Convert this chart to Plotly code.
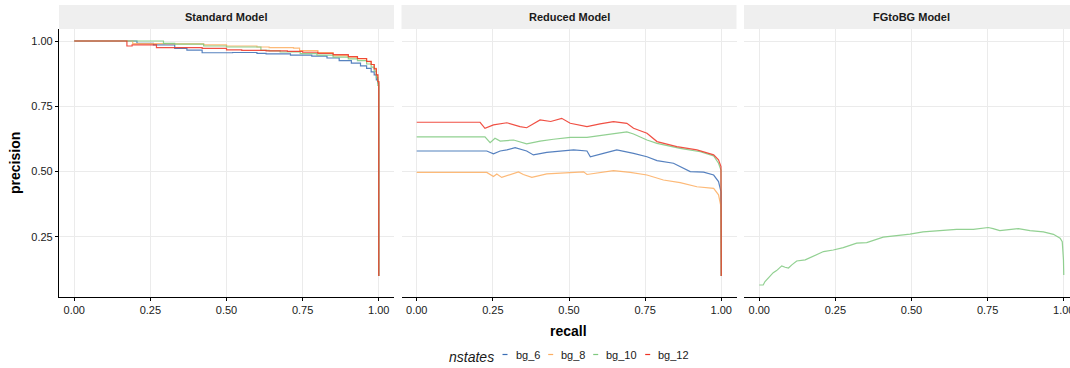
import plotly.graph_objects as go

# ---------------- data ----------------
panels = ["Standard Model", "Reduced Model", "FGtoBG Model"]
series = ["bg_6", "bg_8", "bg_10", "bg_12"]
series_colors = ["#3A6DB5", "#FDAE61", "#7FC97F", "#EE3224"]
legend_title = "nstates"
x_title = "recall"
y_title = "precision"
x_ticks = [0.0, 0.25, 0.5, 0.75, 1.0]
x_tick_labels = ["0.00", "0.25", "0.50", "0.75", "1.00"]
y_ticks = [0.25, 0.5, 0.75, 1.0]
y_tick_labels = ["0.25", "0.50", "0.75", "1.00"]

# Standard Model (step curves)
std_bg6_recall = [0.00, 0.206, 0.26, 0.33, 0.37, 0.42, 0.52, 0.60, 0.63, 0.71, 0.78, 0.83, 0.87, 0.91, 0.94, 0.96, 0.975, 0.985, 0.992, 0.997, 1.0, 1.0]
std_bg6_precision = [1.000, 0.991, 0.985, 0.972, 0.965, 0.955, 0.956, 0.953, 0.951, 0.946, 0.942, 0.935, 0.925, 0.915, 0.905, 0.895, 0.882, 0.870, 0.851, 0.840, 0.832, 0.10]

std_bg8_recall = [0.00, 0.192, 0.30, 0.425, 0.50, 0.60, 0.64, 0.72, 0.74, 0.80, 0.85, 0.90, 0.93, 0.96, 0.975, 0.985, 0.992, 0.997, 1.0, 1.0]
std_bg8_precision = [1.000, 0.990, 0.989, 0.985, 0.981, 0.977, 0.975, 0.973, 0.963, 0.956, 0.944, 0.938, 0.932, 0.921, 0.910, 0.895, 0.870, 0.845, 0.825, 0.10]

std_bg10_recall = [0.00, 0.293, 0.33, 0.425, 0.50, 0.613, 0.64, 0.676, 0.742, 0.797, 0.85, 0.90, 0.93, 0.96, 0.975, 0.985, 0.992, 0.997, 1.0, 1.0]
std_bg10_precision = [1.000, 0.991, 0.988, 0.981, 0.977, 0.964, 0.962, 0.958, 0.952, 0.946, 0.938, 0.932, 0.925, 0.912, 0.900, 0.885, 0.860, 0.830, 0.800, 0.10]

std_bg12_recall = [0.00, 0.173, 0.19, 0.27, 0.42, 0.50, 0.55, 0.63, 0.70, 0.75, 0.80, 0.85, 0.90, 0.93, 0.96, 0.975, 0.985, 0.992, 0.997, 1.0, 1.0]
std_bg12_precision = [1.000, 0.981, 0.985, 0.975, 0.972, 0.966, 0.964, 0.962, 0.960, 0.957, 0.953, 0.948, 0.940, 0.933, 0.922, 0.910, 0.893, 0.870, 0.845, 0.825, 0.10]

# Reduced Model
red_bg6_recall = [0.00, 0.230, 0.252, 0.274, 0.296, 0.323, 0.361, 0.383, 0.427, 0.471, 0.515, 0.559, 0.570, 0.613, 0.657, 0.712, 0.756, 0.789, 0.843, 0.898, 0.942, 0.975, 0.991, 0.999, 1.0]
red_bg6_precision = [0.579, 0.579, 0.568, 0.579, 0.583, 0.592, 0.579, 0.564, 0.574, 0.579, 0.583, 0.579, 0.557, 0.570, 0.583, 0.570, 0.557, 0.542, 0.532, 0.500, 0.498, 0.487, 0.462, 0.423, 0.10]

red_bg8_recall = [0.00, 0.230, 0.252, 0.263, 0.279, 0.318, 0.334, 0.350, 0.378, 0.427, 0.493, 0.548, 0.559, 0.646, 0.701, 0.756, 0.810, 0.865, 0.920, 0.975, 0.991, 0.999, 1.0]
red_bg8_precision = [0.497, 0.497, 0.481, 0.491, 0.478, 0.491, 0.499, 0.489, 0.478, 0.491, 0.495, 0.499, 0.489, 0.504, 0.497, 0.487, 0.468, 0.458, 0.442, 0.436, 0.411, 0.366, 0.10]

red_bg10_recall = [0.00, 0.224, 0.241, 0.257, 0.274, 0.318, 0.361, 0.405, 0.449, 0.504, 0.559, 0.624, 0.690, 0.712, 0.756, 0.789, 0.865, 0.931, 0.975, 0.991, 0.999, 1.0]
red_bg10_precision = [0.633, 0.633, 0.611, 0.628, 0.617, 0.621, 0.606, 0.617, 0.624, 0.631, 0.631, 0.640, 0.652, 0.644, 0.621, 0.608, 0.589, 0.576, 0.560, 0.532, 0.506, 0.10]

red_bg12_recall = [0.00, 0.208, 0.224, 0.252, 0.296, 0.339, 0.361, 0.405, 0.440, 0.476, 0.504, 0.559, 0.602, 0.646, 0.690, 0.712, 0.756, 0.789, 0.854, 0.920, 0.975, 0.991, 0.999, 1.0]
red_bg12_precision = [0.689, 0.689, 0.666, 0.679, 0.687, 0.672, 0.668, 0.698, 0.692, 0.704, 0.685, 0.672, 0.683, 0.691, 0.685, 0.666, 0.647, 0.615, 0.596, 0.583, 0.564, 0.545, 0.519, 0.10]

# FGtoBG Model (only bg_10)
fg_bg10_recall = [0.000, 0.013, 0.019, 0.035, 0.046, 0.057, 0.074, 0.085, 0.096, 0.107, 0.123, 0.151, 0.178, 0.211, 0.243, 0.276, 0.320, 0.353, 0.407, 0.451, 0.495, 0.538, 0.593, 0.648, 0.703, 0.752, 0.768, 0.790, 0.851, 0.889, 0.933, 0.966, 0.988, 0.995, 0.999, 1.000]
fg_bg10_precision = [0.066, 0.066, 0.079, 0.098, 0.113, 0.121, 0.139, 0.134, 0.131, 0.143, 0.158, 0.162, 0.177, 0.194, 0.200, 0.209, 0.226, 0.228, 0.249, 0.254, 0.261, 0.269, 0.274, 0.279, 0.279, 0.286, 0.282, 0.274, 0.282, 0.274, 0.269, 0.260, 0.245, 0.232, 0.162, 0.104]

curves = [
    (0, 0, std_bg6_recall, std_bg6_precision, "hv"),
    (0, 1, std_bg8_recall, std_bg8_precision, "hv"),
    (0, 2, std_bg10_recall, std_bg10_precision, "hv"),
    (0, 3, std_bg12_recall, std_bg12_precision, "hv"),
    (1, 0, red_bg6_recall, red_bg6_precision, "linear"),
    (1, 1, red_bg8_recall, red_bg8_precision, "linear"),
    (1, 2, red_bg10_recall, red_bg10_precision, "linear"),
    (1, 3, red_bg12_recall, red_bg12_precision, "linear"),
    (2, 2, fg_bg10_recall, fg_bg10_precision, "linear"),
]

# ---------------- layout geometry ----------------
W, H = 1070, 368
FONT = "Liberation Sans, Arial, Helvetica, sans-serif"
TXT = "#1a1a1a"


def fx(p):
    return p / W


def fy(p):
    return 1 - p / H


panel_left = [59, 401.5, 744]
panel_w = 335
x_lo, x_hi = -0.05, 1.05
scale = panel_w / (x_hi - x_lo)
plot_top, plot_bottom, strip_top = 29, 297, 5
y_range = [0.020, 1.046]

fig = go.Figure()

for p, s, rx, ry, shape in curves:
    suffix = "" if p == 0 else str(p + 1)
    fig.add_trace(go.Scatter(
        x=rx, y=ry, mode="lines", name=series[s],
        line=dict(color=series_colors[s], width=1.2, shape=shape),
        opacity=0.85, showlegend=False,
        xaxis="x" + suffix, yaxis="y" + suffix,
    ))

layout = dict(
    width=W, height=H,
    margin=dict(l=0, r=0, t=0, b=0, autoexpand=False),
    paper_bgcolor="white", plot_bgcolor="white",
    font=dict(family=FONT, size=11, color=TXT),
    showlegend=False,
)

shapes = []
annotations = []

for i, name in enumerate(panels):
    left = panel_left[i]
    right = min(W, left + panel_w)
    x_right = x_lo + (right - left) / scale
    suffix = "" if i == 0 else str(i + 1)
    layout["xaxis" + suffix] = dict(
        domain=[fx(left), fx(right)],
        range=[x_lo, x_right],
        anchor="y" + suffix,
        automargin=False,
        tickvals=x_ticks, ticktext=x_tick_labels,
        ticks="outside", ticklen=3, tickwidth=1, tickcolor="black",
        showline=True, linecolor="black", linewidth=1.1,
        showgrid=True, gridcolor="#EBEBEB", gridwidth=1.2,
        zeroline=False,
        tickfont=dict(family=FONT, size=11, color=TXT),
        ticklabeloverflow="allow",
    )
    ydict = dict(
        domain=[fy(plot_bottom), fy(plot_top)],
        range=y_range,
        anchor="x" + suffix,
        automargin=False,
        tickvals=y_ticks, ticktext=y_tick_labels,
        showgrid=True, gridcolor="#EBEBEB", gridwidth=1.2,
        zeroline=False,
        tickfont=dict(family=FONT, size=11, color=TXT),
    )
    if i == 0:
        ydict.update(ticks="outside", ticklen=3, tickwidth=1, tickcolor="black",
                     showline=True, linecolor="black", linewidth=1.1)
    else:
        ydict.update(showticklabels=False, ticks="", showline=False)
    layout["yaxis" + suffix] = ydict

    # strip
    shapes.append(dict(type="rect", xref="paper", yref="paper",
                       x0=fx(left), x1=fx(right) if right < W else 1.0,
                       y0=fy(plot_top), y1=fy(strip_top),
                       fillcolor="#EFEFEF", line=dict(width=0), layer="below"))
    annotations.append(dict(text="<b>%s</b>" % name, xref="paper", yref="paper",
                            x=fx(left + panel_w / 2), y=fy((plot_top + strip_top) / 2),
                            xanchor="center", yanchor="middle", showarrow=False,
                            font=dict(family=FONT, size=11, color=TXT)))

# axis titles
annotations.append(dict(text="<b>%s</b>" % x_title, xref="paper", yref="paper",
                        x=fx(568), y=fy(331), xanchor="center", yanchor="middle",
                        showarrow=False, font=dict(family=FONT, size=14, color="black")))
annotations.append(dict(text="<b>%s</b>" % y_title, xref="paper", yref="paper",
                        x=fx(15), y=fy((plot_top + plot_bottom) / 2), xanchor="center",
                        yanchor="middle", textangle=-90, showarrow=False,
                        font=dict(family=FONT, size=14, color="black")))

# legend (drawn manually to match the compact ggplot key)
leg_y = 355.5
annotations.append(dict(text="<i>%s</i>" % legend_title, xref="paper", yref="paper",
                        x=fx(471), y=fy(leg_y + 1), xanchor="center", yanchor="middle",
                        showarrow=False, font=dict(family=FONT, size=14, color=TXT)))
key_x = [505, 550.7, 595.7, 647.7]
for k, s in enumerate(series):
    shapes.append(dict(type="line", xref="paper", yref="paper",
                       x0=fx(key_x[k] - 2.5), x1=fx(key_x[k] + 2.5),
                       y0=fy(leg_y - 1), y1=fy(leg_y - 1),
                       line=dict(color=series_colors[k], width=1.2)))
    annotations.append(dict(text=s, xref="paper", yref="paper",
                            x=fx(key_x[k] + 8.5), y=fy(leg_y - 0.5), xanchor="left",
                            yanchor="middle", showarrow=False,
                            font=dict(family=FONT, size=11, color=TXT)))

layout["shapes"] = shapes
layout["annotations"] = annotations
fig.update_layout(**layout)

fig.write_html(
    "out.html",
    config={"displayModeBar": False},
    post_script="document.body.style.margin='0';document.body.style.padding='0';"
                "document.body.style.overflow='hidden';",
)
